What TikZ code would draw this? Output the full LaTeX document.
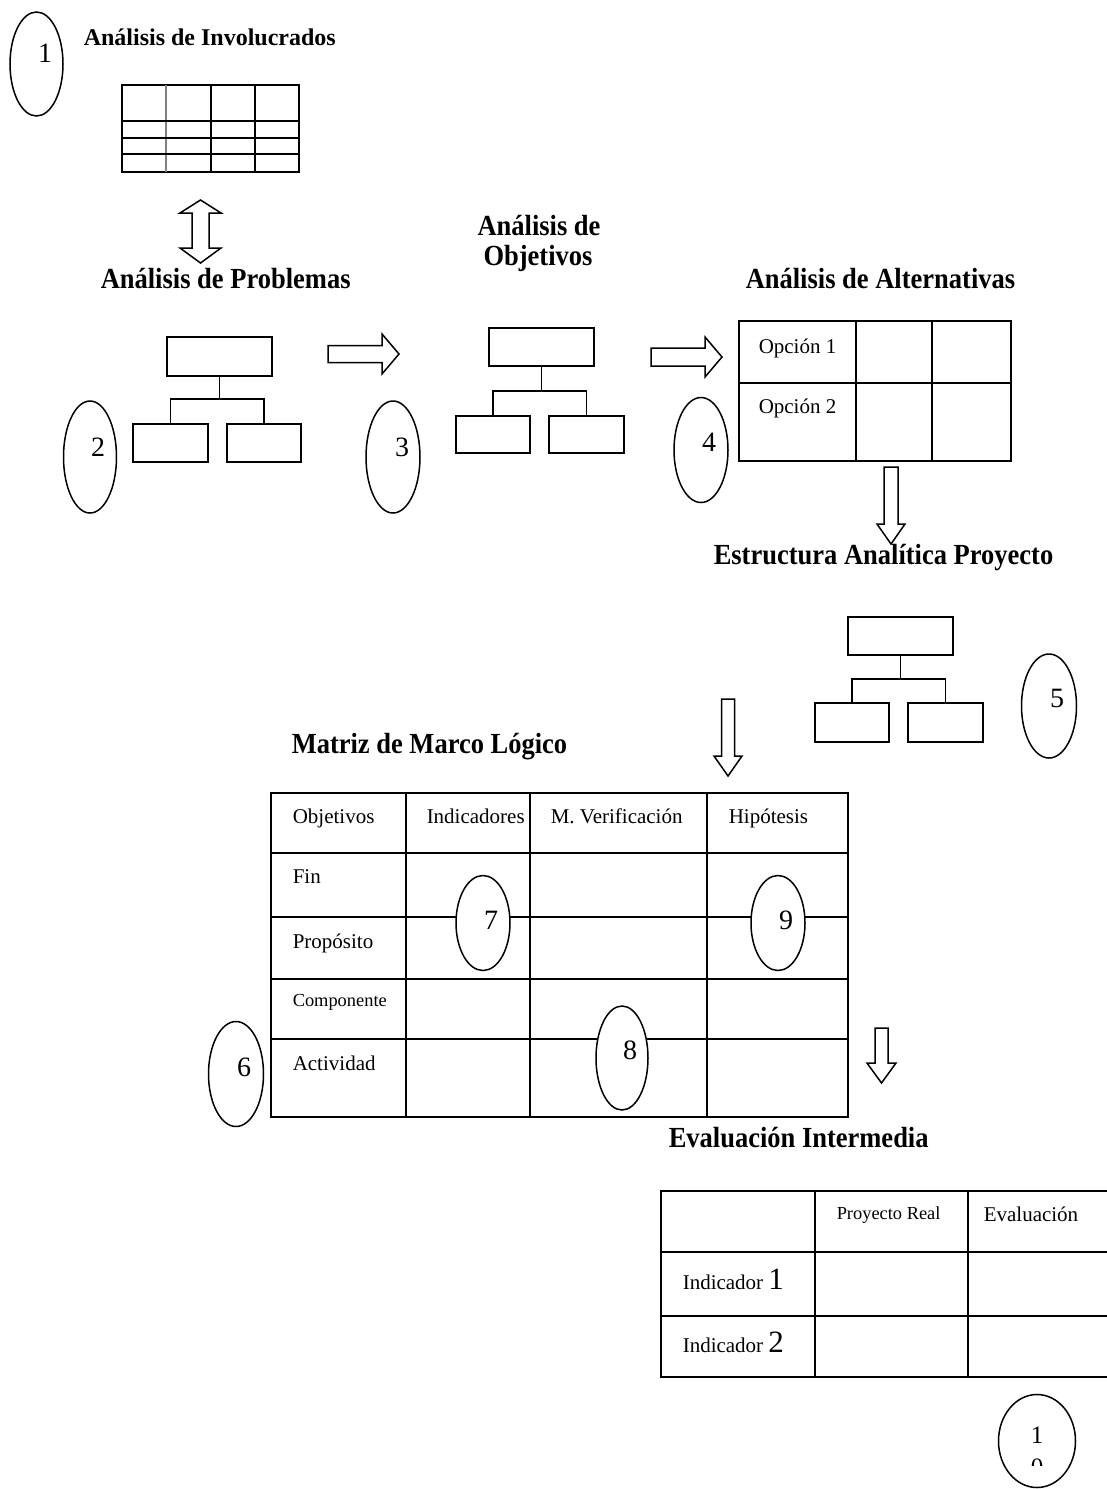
\documentclass[tikz,border=0pt]{standalone}
\usepackage{fontspec}
\setmainfont{LiberationSerif}[Extension=.ttf, UprightFont=*-Regular, BoldFont=*-Bold, ItalicFont=*-Italic, BoldItalicFont=*-BoldItalic]
\usetikzlibrary{shapes.geometric}
\newcommand{\tallt}[1]{\scalebox{1}[1.1]{#1}}
\begin{document}
\begin{tikzpicture}[x=1pt,y=-1pt, line width=1.5pt,
  title/.style={font=\fontsize{26.5}{30}\selectfont\bfseries, inner sep=0pt, anchor=base west},
  txt/.style={font=\fontsize{21}{24}\selectfont, inner sep=0pt, anchor=base west},
  smalltxt/.style={font=\fontsize{18.4}{22}\selectfont, inner sep=0pt, anchor=base west},
  num/.style={font=\fontsize{28}{30}\selectfont, inner sep=0pt},
  oval/.style={draw, ellipse, fill=white, inner sep=0pt},
  box/.style={draw, rectangle, inner sep=0pt},
  blockarrow/.style={draw, fill=white, line join=miter}]

\useasboundingbox (0,0) rectangle (1107,1489);
\clip (0,0) rectangle (1107,1489);

% ---------- 1: Involucrados ----------
\node[oval, minimum width=53pt, minimum height=104pt] (e1) at (36.5,64) {};
\node[num] (n1) at ([shift={(8.5,-11)}]e1.center) {1};
\node[title, font=\fontsize{24}{28}\selectfont\bfseries] (tInv) at (83,45) {Análisis de Involucrados};
\draw (122,85) rectangle (299,172);
\draw (211,85) -- (211,172) (255,85) -- (255,172);
\draw[gray] (166,85) -- (166,172);
\draw[line width=2.2pt] (122,121) -- (299,121) (122,138) -- (299,138);
\draw (122,154) -- (299,154);

% double arrow
\draw[blockarrow] (200.5,200) -- (221,213) -- (209,213) -- (209,248) -- (221,248) -- (200.5,263)
  -- (180,248) -- (192,248) -- (192,213) -- (180,213) -- cycle;

% ---------- 2: Problemas ----------
\node[title] (tProb) at (100,288) {\tallt{Análisis de Problemas}};
\node[box, minimum width=105pt, minimum height=39pt] (t2) at (219.5,356.5) {};
\node[box, minimum width=75pt, minimum height=38pt] (l2) at (170.5,443) {};
\node[box, minimum width=74pt, minimum height=38pt] (r2) at (264,443) {};
\coordinate (j2) at (219.5,399);
\draw (t2.south) -- (j2);
\draw (l2.north) |- (j2) -| (r2.north);
\node[oval, minimum width=53pt, minimum height=112pt] (e2) at (90,457) {};
\node[num] (n2) at ([shift={(8,-10)}]e2.center) {2};

\draw[blockarrow] (328,345.5) -- (382,345.5) -- (382,334) -- (399,354) -- (382,374) -- (382,362.5) -- (328,362.5) -- cycle;

% ---------- 3: Objetivos ----------
\node[title, anchor=base] (tObjA) at (539,235) {\tallt{Análisis de}};
\node[title, anchor=base] (tObjB) at (538,265) {\tallt{Objetivos}};
\node[box, minimum width=105pt, minimum height=38pt] (t3) at (541.5,347) {};
\node[box, minimum width=74pt, minimum height=37pt] (l3) at (493,434.5) {};
\node[box, minimum width=75pt, minimum height=37pt] (r3) at (586.5,434.5) {};
\coordinate (j3) at (541.5,391);
\draw (t3.south) -- (j3);
\draw (l3.north) |- (j3) -| (r3.north);
\node[oval, minimum width=54pt, minimum height=112pt] (e3) at (393,457) {};
\node[num] (n3) at ([shift={(9,-10)}]e3.center) {3};

\draw[blockarrow] (651,348) -- (705,348) -- (705,337) -- (722,357) -- (705,377) -- (705,366) -- (651,366) -- cycle;

% ---------- 4: Alternativas ----------
\node[title] (tAlt) at (745,288) {\tallt{Análisis de Alternativas}};
\draw (739,321) rectangle (1011,461);
\draw (856,321) -- (856,461) (932,321) -- (932,461) (739,383) -- (1011,383);
\node[txt] (op1) at (758,353) {Opción 1};
\node[txt] (op2) at (758,413) {Opción 2};
\node[oval, minimum width=54pt, minimum height=105pt] (e4) at (701,450) {};
\node[num] (n4) at ([shift={(8,-8)}]e4.center) {4};

\draw[blockarrow] (884,467) -- (898,467) -- (898,524) -- (905,524) -- (891,544) -- (877,524) -- (884,524) -- cycle;

% ---------- 5: EAP ----------
\node[title] (tEap) at (713,564) {\tallt{Estructura Analítica Proyecto}};
\node[box, minimum width=105pt, minimum height=38pt] (t5) at (900.5,636) {};
\node[box, minimum width=74pt, minimum height=39pt] (l5) at (852,722.5) {};
\node[box, minimum width=75pt, minimum height=39pt] (r5) at (945.5,722.5) {};
\coordinate (j5) at (900.5,679);
\draw (t5.south) -- (j5);
\draw (l5.north) |- (j5) -| (r5.north);
\node[oval, minimum width=55pt, minimum height=104pt] (e5) at (1049,706) {};
\node[num] (n5) at ([shift={(8,-8)}]e5.center) {5};

\draw[blockarrow] (721.5,699) -- (734.5,699) -- (734.5,756) -- (742,756) -- (728,776) -- (714,756) -- (721.5,756) -- cycle;

% ---------- 6: Matriz ----------
\node[title] (tMml) at (291,753) {\tallt{Matriz de Marco Lógico}};
\draw (271,793) rectangle (848,1117);
\foreach \x in {406,530,707} \draw (\x,793) -- (\x,1117);
\foreach \y in {853,917,979,1039} \draw (271,\y) -- (848,\y);
\node[txt] (hObj) at (292,823) {Objetivos};
\node[txt] (hInd) at (426,823) {Indicadores};
\node[txt] (hMv) at (550,823) {M. Verificación};
\node[txt] (hHip) at (728,823) {Hipótesis};
\node[txt] (rFin) at (292,883) {Fin};
\node[txt] (rPro) at (292,948) {Propósito};
\node[smalltxt] (rCom) at (292,1006) {Componente};
\node[txt] (rAct) at (292,1070) {Actividad};
\node[oval, minimum width=54pt, minimum height=95pt] (e7) at (483,923) {};
\node[num] (n7) at ([shift={(8,-3)}]e7.center) {7};
\node[oval, minimum width=54pt, minimum height=95pt] (e9) at (778,923) {};
\node[num] (n9) at ([shift={(8,-3)}]e9.center) {9};
\node[oval, minimum width=52pt, minimum height=104pt] (e8) at (622,1058) {};
\node[num] (n8) at ([shift={(8,-8)}]e8.center) {8};
\node[oval, minimum width=55pt, minimum height=105pt] (e6) at (236,1074) {};
\node[num] (n6) at ([shift={(8,-7)}]e6.center) {6};

\draw[blockarrow] (875,1028) -- (888,1028) -- (888,1063) -- (896,1063) -- (881.5,1083) -- (867,1063) -- (875,1063) -- cycle;

% ---------- 10: Evaluacion ----------
\node[title] (tEval) at (668,1147) {\tallt{Evaluación Intermedia}};
\draw (1110,1191) -- (661,1191) -- (661,1377) -- (1110,1377);
\draw (815,1191) -- (815,1377) (968,1191) -- (968,1377) (661,1252) -- (1110,1252) (661,1316) -- (1110,1316);
\node[smalltxt] (cPr) at (836,1219) {Proyecto Real};
\node[txt] (cEv) at (983,1221) {Evaluación};
\node[txt] (cI1) at (682,1289) {Indicador {\fontsize{31}{34}\selectfont 1}};
\node[txt] (cI2) at (682,1352) {Indicador {\fontsize{31}{34}\selectfont 2}};
\node[oval, minimum width=77pt, minimum height=93pt] (e10) at (1037,1441) {};
\begin{scope}
  \clip (990,1400) rectangle (1085,1465.5);
  \node[num, font=\fontsize{25}{27}\selectfont] (n10a) at (1037,1435) {1};
  \node[num, font=\fontsize{25}{27}\selectfont] (n10b) at (1037,1467) {0};
\end{scope}
\end{tikzpicture}
\end{document}
